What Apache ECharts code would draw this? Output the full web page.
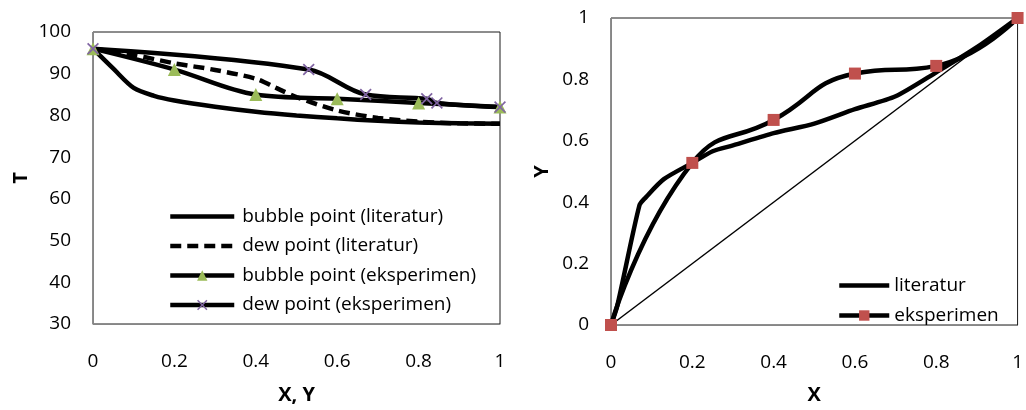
<!DOCTYPE html>
<html>
<head>
<meta charset="utf-8">
<script src="https://cdn.jsdelivr.net/npm/echarts@6/dist/echarts.min.js"></script>
<style>html,body{margin:0;padding:0;background:#fff}#c{width:1026px;height:410px}</style>
</head>
<body>
<div id="c"></div>
<script>
// ---- Left chart (T vs X,Y) ----
var bubbleLitX = [0, 0.05, 0.1, 0.15, 0.2, 0.3, 0.4, 0.5, 0.6, 0.7, 0.8, 0.9, 1];
var bubbleLitT = [96, 91.2, 86.6, 84.7, 83.6, 82.1, 80.9, 80.0, 79.3, 78.7, 78.3, 78.1, 78.0];
var dewLitY = [0, 0.1, 0.2, 0.3, 0.4, 0.45, 0.5, 0.6, 0.7, 0.8, 0.9, 1];
var dewLitT = [96, 94.5, 92.5, 90.9, 88.8, 86.6, 84.4, 81.2, 79.4, 78.5, 78.1, 78.0];
var bubbleExpX = [0, 0.2, 0.4, 0.6, 0.8, 1];
var bubbleExpT = [96, 91, 85, 84, 83, 82];
var dewExpY = [0, 0.53, 0.67, 0.82, 0.845, 1];
var dewExpT = [96, 91, 85, 84, 83, 82];
var leftYTicks = [30, 100, 10];
// ---- Right chart (Y vs X) ----
var diagX = [0, 1];
var diagY = [0, 1];
var litX = [0, 0.015, 0.07, 0.085, 0.13, 0.2, 0.25, 0.3, 0.4, 0.5, 0.6, 0.7, 0.8, 0.9, 1];
var litY = [0, 0.06, 0.39, 0.415, 0.475, 0.528, 0.566, 0.585, 0.625, 0.656, 0.703, 0.745, 0.823, 0.905, 1];
var expX = [0, 0.2, 0.4, 0.6, 0.8, 1];
var expY = [0, 0.528, 0.668, 0.819, 0.844, 1];

function zip(a, b) { return a.map(function (v, i) { return [v, b[i]]; }); }

var FONT = 'Open Sans';
var crossPath = 'path://M0,1 L1,0 L5,4 L9,0 L10,1 L6,5 L10,9 L9,10 L5,6 L1,10 L0,9 L4,5 Z';
var NONE = 'rgba(0,0,0,0)';

function xAxis(gi, name, gap) {
  return {
    gridIndex: gi, type: 'value', min: 0, max: 1, interval: 0.2,
    axisLine: { show: true, lineStyle: { color: '#868686', width: 1 } },
    axisTick: { show: false }, splitLine: { show: false },
    axisLabel: { color: '#000', fontSize: 19, fontFamily: FONT, margin: 28 },
    name: name, nameLocation: 'middle', nameGap: gap,
    nameTextStyle: { color: '#000', fontSize: 20, fontWeight: 'bold', fontFamily: FONT }
  };
}
function yAxis(gi, name, min, max, interval, gap) {
  return {
    gridIndex: gi, type: 'value', min: min, max: max, interval: interval,
    axisLine: { show: true, lineStyle: { color: '#868686', width: 1 } },
    axisTick: { show: false }, splitLine: { show: false },
    axisLabel: { color: '#000', fontSize: 19, fontFamily: FONT, margin: 22 },
    name: name, nameLocation: 'middle', nameGap: gap,
    nameTextStyle: { color: '#000', fontSize: 20, fontWeight: 'bold', fontFamily: FONT }
  };
}

var chart = echarts.init(document.getElementById('c'), null, { renderer: 'canvas' });
chart.setOption({
  animation: false,
  backgroundColor: '#fff',
  grid: [
    { left: 93, top: 32, width: 407, height: 294, show: true, borderColor: '#1a1a1a', borderWidth: 1, backgroundColor: 'transparent' },
    { left: 611, top: 18, width: 407, height: 310, show: true, borderColor: '#1a1a1a', borderWidth: 1, backgroundColor: 'transparent' }
  ],
  xAxis: [xAxis(0, 'X, Y', 61), xAxis(1, 'X', 60)],
  yAxis: [yAxis(0, 'T', leftYTicks[0], leftYTicks[1], leftYTicks[2], 62), yAxis(1, 'Y', 0, 1, 0.2, 59)],
  legend: [
    {
      left: 168, top: 207, orient: 'vertical', itemWidth: 64, itemHeight: 13, itemGap: 10.5, padding: 0,
      lineStyle: { width: 4.5 },
      textStyle: { fontSize: 19, fontFamily: FONT, color: '#000', padding: [0, 0, 0, 3] },
      data: ['bubble point (literatur)', 'dew point (literatur)', 'bubble point (eksperimen)', 'dew point (eksperimen)']
    },
    {
      left: 837, top: 276, orient: 'vertical', itemWidth: 50, itemHeight: 13, itemGap: 11, padding: 0,
      lineStyle: { width: 4.5 },
      textStyle: { fontSize: 19, fontFamily: FONT, color: '#000', padding: [0, 0, 0, 0] },
      data: ['literatur', 'eksperimen']
    }
  ],
  series: [
    {
      name: 'bubble point (literatur)', type: 'line', xAxisIndex: 0, yAxisIndex: 0,
      data: zip(bubbleLitX, bubbleLitT), smooth: 0.3, symbol: 'none',
      lineStyle: { color: '#000', width: 4.5 }, itemStyle: { color: NONE, borderWidth: 0 }
    },
    {
      name: 'dew point (literatur)', type: 'line', xAxisIndex: 0, yAxisIndex: 0,
      data: zip(dewLitY, dewLitT), smooth: 0.3, symbol: 'none',
      lineStyle: { color: '#000', width: 4.5, type: [11, 6] }, itemStyle: { color: NONE, borderWidth: 0 }
    },
    {
      name: 'bubble point (eksperimen)', type: 'line', xAxisIndex: 0, yAxisIndex: 0,
      data: zip(bubbleExpX, bubbleExpT), smooth: 0.35, symbol: 'triangle', symbolSize: 13,
      lineStyle: { color: '#000', width: 4.5 }, itemStyle: { color: '#9BBB59' }
    },
    {
      name: 'dew point (eksperimen)', type: 'line', xAxisIndex: 0, yAxisIndex: 0,
      data: zip(dewExpY, dewExpT), smooth: 0.35, symbol: crossPath, symbolSize: 12,
      lineStyle: { color: '#000', width: 4.5 }, itemStyle: { color: '#8064A2' }
    },
    {
      name: 'diagonal', type: 'line', xAxisIndex: 1, yAxisIndex: 1,
      data: zip(diagX, diagY), symbol: 'none',
      lineStyle: { color: '#000', width: 1.5 }
    },
    {
      name: 'literatur', type: 'line', xAxisIndex: 1, yAxisIndex: 1,
      data: zip(litX, litY), smooth: 0.25, symbol: 'none',
      lineStyle: { color: '#000', width: 4.5 }, itemStyle: { color: NONE, borderWidth: 0 }
    },
    {
      name: 'eksperimen', type: 'line', xAxisIndex: 1, yAxisIndex: 1,
      data: zip(expX, expY), smooth: 0.5, symbol: 'rect', symbolSize: 12,
      lineStyle: { color: '#000', width: 4.5 }, itemStyle: { color: '#C0504D' }
    }
  ]
});
</script>
</body>
</html>
